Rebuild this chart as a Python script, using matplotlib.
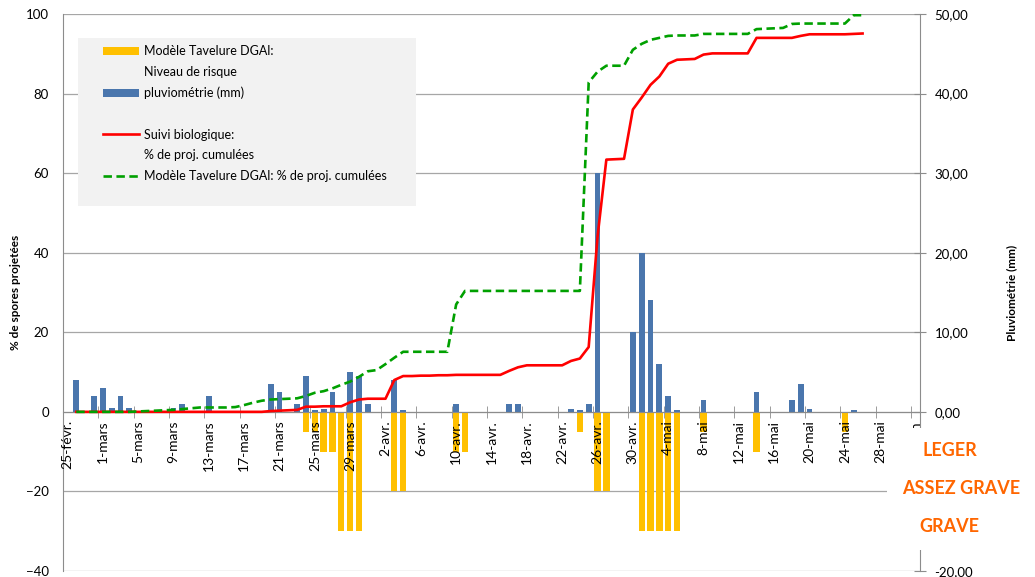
import matplotlib
matplotlib.use('Agg')
import matplotlib.pyplot as plt
from matplotlib.patches import Patch, Rectangle
from matplotlib.lines import Line2D

# category axis: one slot per day, 25-févr. (0) to 1-juin (96)
n_days = 97
tick_pos = list(range(0, 97, 4))
tick_labels = ['25-févr.', '1-mars', '5-mars', '9-mars', '13-mars', '17-mars', '21-mars',
               '25-mars', '29-mars', '2-avr.', '6-avr.', '10-avr.', '14-avr.', '18-avr.',
               '22-avr.', '26-avr.', '30-avr.', '4-mai', '8-mai', '12-mai', '16-mai',
               '20-mai', '24-mai', '28-mai', '1-juin']

# pluviométrie (mm), right axis
rain_day = [1, 3, 4, 5, 6, 7, 8, 12, 13, 16, 23, 24, 26, 27, 28, 29, 30, 32, 33, 34,
            37, 38, 44, 50, 51, 57, 58, 59, 60, 64, 65, 66, 67, 68, 69, 72, 78, 82, 83, 84, 89]
rain_mm = [4.0, 2.0, 3.0, 0.5, 2.0, 0.5, 0.1, 0.5, 1.0, 2.0, 3.5, 2.5, 1.0, 4.5, 0.2, 0.4, 2.5, 5.0, 4.5, 1.0,
           4.0, 0.2, 1.0, 1.0, 1.0, 0.3, 0.2, 1.0, 30.0, 10.0, 20.0, 14.0, 6.0, 2.0, 0.2, 1.5, 2.5, 1.5, 3.5, 0.4, 0.2]

# modèle tavelure: niveau de risque (-5 léger, -10/-20 assez grave, -30 grave)
risk_day = [27, 28, 29, 30, 31, 32, 33, 37, 38, 44, 45, 58, 60, 61, 65, 66, 67, 68, 69, 72, 78, 88]
risk_level = [-5, -5, -10, -10, -30, -30, -30, -20, -20, -10, -10, -5, -20, -20,
              -30, -30, -30, -30, -30, -5, -10, -5]

# cumulative % of projected spores, days 1..90
line_days = list(range(1, 91))
suivi_bio = [0, 0, 0, 0, 0, 0, 0, 0, 0, 0,
             0, 0, 0, 0, 0, 0, 0, 0, 0, 0,
             0, 0, 0.2, 0.3, 0.4, 0.5, 1.3, 1.3, 1.4, 1.4,
             1.4, 2.4, 3.1, 3.3, 3.3, 3.3, 8.0, 9.0, 9.0, 9.1,
             9.1, 9.2, 9.2, 9.3, 9.3, 9.3, 9.3, 9.3, 9.3, 10.3,
             11.2, 11.7, 11.7, 11.7, 11.7, 11.7, 12.8, 13.4, 16.3, 44.0,
             63.4, 63.5, 63.6, 76.0, 79.0, 82.2, 84.3, 87.5, 88.5, 88.6,
             88.7, 89.8, 90.1, 90.1, 90.1, 90.1, 90.1, 94.0, 94.0, 94.0,
             94.0, 94.0, 94.5, 94.9, 94.9, 94.9, 94.9, 94.9, 95.0, 95.1]
modele_dgal = [0, 0, 0, 0, 0, 0, 0, 0.1, 0.2, 0.3,
               0.4, 0.5, 0.7, 0.9, 1.1, 1.1, 1.1, 1.1, 1.2, 1.7,
               2.3, 2.8, 3.1, 3.2, 3.3, 3.4, 4.0, 4.8, 5.2, 5.9,
               6.8, 7.6, 8.8, 10.2, 10.5, 12.0, 13.6, 15.1, 15.1, 15.1,
               15.1, 15.1, 15.1, 27.0, 30.4, 30.4, 30.4, 30.4, 30.4, 30.4,
               30.4, 30.4, 30.4, 30.4, 30.4, 30.4, 30.4, 30.4, 82.8, 85.5,
               87.0, 87.0, 87.0, 91.0, 92.5, 93.5, 94.0, 94.5, 94.6, 94.6,
               94.6, 95.0, 95.0, 95.0, 95.0, 95.0, 95.0, 96.2, 96.3, 96.4,
               96.5, 97.5, 97.6, 97.6, 97.6, 97.6, 97.6, 97.6, 99.7, 99.7]

blue = '#4a76ad'
yellow = '#ffc000'
red = '#ff0000'
green = '#00a000'
grey = '#8c8c8c'
orange = '#ff6600'
dash = (0, (3.2, 1.7))

plt.rcParams['font.family'] = ['Lato', 'DejaVu Sans']

fig = plt.figure(figsize=(10.35, 5.77), dpi=100)
ax1 = fig.add_axes([63 / 1035, 6 / 577, 857 / 1035, 557 / 577])
ax2 = ax1.twinx()
ax1.set_zorder(ax2.get_zorder() + 1)
ax1.patch.set_visible(False)

# rain bars + grid on the right axis (drawn underneath)
ax2.bar(rain_day, rain_mm, width=0.66, color=blue, zorder=2)
ax2.set_ylim(-20, 50)
right_ticks = list(range(-20, 51, 10))
# the -10,00 label sits under the "ASSEZ GRAVE" caption in the original
right_labels = ['' if v == -10 else f"{v:.2f}".replace('.', ',') for v in right_ticks]
ax2.set_yticks(right_ticks)
ax2.set_yticklabels(right_labels, fontsize=9.5)
ax2.grid(axis='y', color='#a6a6a6', lw=0.9)
ax2.set_axisbelow(True)
ax2.tick_params(axis='y', direction='inout', length=9, pad=6, color=grey)
for s in ['top', 'bottom', 'left']:
    ax2.spines[s].set_visible(False)
ax2.spines['right'].set_color(grey)
ax2.set_ylabel('Pluviométrie (mm)', fontsize=8.5, fontweight='bold')
ax2.yaxis.set_label_coords(1.100, 0.5)

# risk bars and cumulative curves on the left axis
ax1.set_axisbelow(False)
ax1.bar(risk_day, risk_level, width=0.72, color=yellow, zorder=2)
ax1.plot(line_days, suivi_bio, color=red, lw=1.9, zorder=3)
ax1.plot(line_days, modele_dgal, color=green, lw=1.9, ls=dash, zorder=3)

ax1.set_xlim(-0.5, n_days - 0.5)
ax1.set_ylim(-40, 100)
ax1.set_yticks(range(-40, 101, 20))
ax1.tick_params(axis='y', length=0, pad=10, labelsize=9.5)
ax1.set_xticks(tick_pos)
ax1.set_xticklabels(tick_labels, fontsize=9.2)
ax1.set_xticks([p - 0.5 for p in tick_pos], minor=True)
ax1.tick_params(axis='x', which='major', length=0, pad=6, labelrotation=90)
ax1.tick_params(axis='x', which='minor', length=8, direction='inout', color=grey)
ax1.spines['bottom'].set_position(('data', 0))
ax1.spines['bottom'].set_color(grey)
ax1.spines['left'].set_color(grey)
ax1.spines['top'].set_visible(False)
ax1.spines['right'].set_visible(False)
ax1.set_ylabel('% de spores projetées', fontsize=8.5, fontweight='bold')
ax1.yaxis.set_label_coords(-0.049, 0.5)

# legend on a grey panel
ax1.add_patch(Rectangle((78 / 1035, 1 - 206 / 577), 338 / 1035, 168 / 577,
                        transform=fig.transFigure, facecolor='#f2f2f2',
                        edgecolor='none', zorder=4))
handles = [Patch(facecolor=yellow),
           Patch(facecolor='none', edgecolor='none'),
           Patch(facecolor=blue),
           Patch(facecolor='none', edgecolor='none'),
           Line2D([], [], color=red, lw=1.9),
           Line2D([], [], color='none'),
           Line2D([], [], color=green, lw=1.9, ls=dash)]
labels = ['Modèle Tavelure DGAl:', 'Niveau de risque', 'pluviométrie (mm)', '',
          'Suivi biologique:', '% de proj. cumulées',
          'Modèle Tavelure DGAl: % de proj. cumulées']
leg = ax1.legend(handles, labels, loc='upper left',
                 bbox_to_anchor=(103 / 1035, 1 - 45 / 577),
                 bbox_transform=fig.transFigure, frameon=False, fontsize=9,
                 handlelength=2.9, handleheight=0.6, handletextpad=0.35,
                 labelspacing=0.7, borderpad=0, borderaxespad=0)
leg.set_zorder(5)

# risk level captions
box = dict(facecolor='white', edgecolor='none', boxstyle='square,pad=0.8')
fig.text(950 / 1035, 1 - 451 / 577, 'LEGER', ha='center', va='center', color=orange,
         fontsize=13, fontweight='bold', bbox=box)
fig.text(961 / 1035, 1 - 488 / 577, 'ASSEZ GRAVE', ha='center', va='center', color=orange,
         fontsize=13, fontweight='bold', bbox=box)
fig.text(949 / 1035, 1 - 527 / 577, 'GRAVE', ha='center', va='center', color=orange,
         fontsize=13, fontweight='bold', bbox=box)

fig.savefig('out.png', dpi=100)
